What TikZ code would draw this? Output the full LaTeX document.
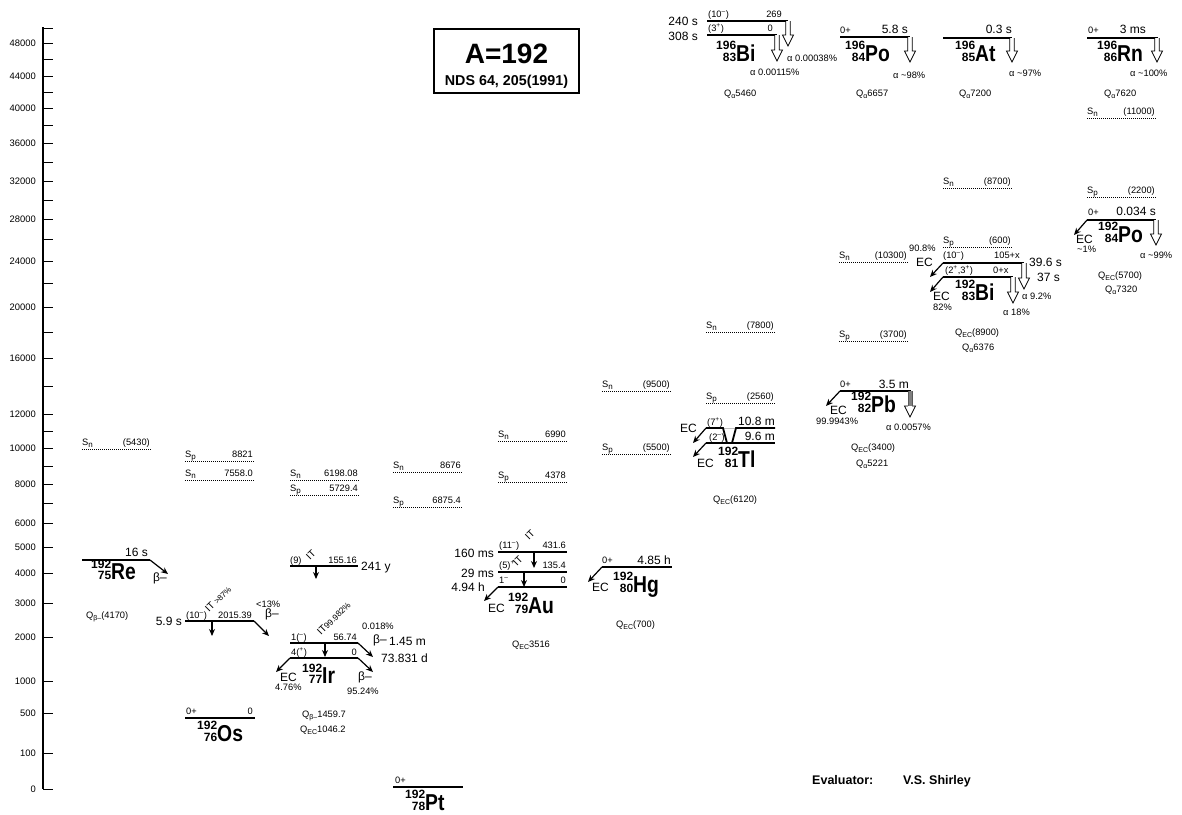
\documentclass[tikz,border=0pt]{standalone}
\usepackage{fontspec}
\setmainfont{Liberation Sans}
\usetikzlibrary{arrows.meta}
\newcommand\Ssub[1]{S\raisebox{-2pt}{\fontsize{8}{8}\selectfont #1}}
\newcommand\Qsub[1]{Q\raisebox{-2.5pt}{\fontsize{7}{7}\selectfont #1}}
\newcommand\Nuc[3]{{\bfseries\fontsize{12}{12}\selectfont\renewcommand\arraystretch{0.74}\begin{tabular}[b]{@{}r@{}}#1\\#2\end{tabular}\fontsize{23}{23}\selectfont\scalebox{0.84}[1]{#3}}}
\newcommand\Sup[1]{\textsuperscript{#1}}
\newcommand\SepLine[5]{%
  \coordinate (#1a) at (#2,#3); \coordinate (#1b) at (#2+69,#3);
  \draw[sep] (#1a) -- (#1b);
  \node[sm,anchor=base west] (#1s) at (#2,#3-3.5) {\Ssub{#4}};
  \node[sm,anchor=base east] (#1v) at (#2+68,#3-3.5) {#5};}
\newcommand\AArrow[4]{% name, x, y0, y1
  \coordinate (#1s) at (#2,#3); \coordinate (#1e) at (#2,#4);
  \draw[line width=0.8pt, fill=white] (#2-2.2,#3) -- (#2-2.2,#4-11) -- (#2-5.5,#4-11) -- (#1e) -- (#2+5.5,#4-11) -- (#2+2.2,#4-11) -- (#2+2.2,#3);}
\tikzset{
  lvl/.style={line width=1.8pt},
  sep/.style={line width=0.9pt, dash pattern=on 0.9pt off 1.1pt},
  arr/.style={line width=1.2pt,-{Stealth[length=7pt,width=6pt]}},
  sm/.style={inner sep=0pt,font=\fontsize{9.3}{10}\selectfont},
  md/.style={inner sep=0pt,font=\fontsize{12}{13}\selectfont},
  ax/.style={inner sep=0pt,font=\fontsize{9.4}{10}\selectfont},
  nuc/.style={inner sep=0pt,anchor=base west},
  rot/.style={inner sep=0pt,rotate=45,anchor=base west},
}
\begin{document}
\begin{tikzpicture}[x=1pt,y=-1pt]
\useasboundingbox (0,0) rectangle (1182,814);
% ---------------- axis
\draw[line width=1.2pt] (43,27) coordinate (axtop) -- (43,789) coordinate (axbot);
\foreach \y/\l in {43/48000,76/44000,108/40000,143/36000,181/32000,219/28000,261/24000,307/20000,358/16000,414/12000,448/10000,484/8000,523/6000,547/5000,573/4000,603/3000,637/2000,681/1000,713/500,753/100,789/0}{
  \draw[line width=1pt] (43,\y) -- (53,\y);
  \node[ax,anchor=east] at (36,\y) {\l};}
\foreach \y in {28,59,92,125,162,200,239,283,332,386,431,466,503}{
  \draw[line width=1pt] (43,\y) -- (53,\y);}
% ---------------- title
\node[draw,line width=1.2pt,minimum width=145pt,minimum height=64pt,inner sep=0pt] (title) at (506.5,61) {};
\node[inner sep=0pt,anchor=base,font=\fontsize{28}{28}\selectfont\bfseries] (tA) at (506.5,63) {A=192};
\node[inner sep=0pt,anchor=base,font=\fontsize{14.3}{14}\selectfont\bfseries] (tB) at (506.5,85) {NDS 64, 205(1991)};
\node[inner sep=0pt,anchor=base west,font=\fontsize{12.5}{12}\selectfont\bfseries] (ev1) at (812,784) {Evaluator:};
\node[inner sep=0pt,anchor=base west,font=\fontsize{12.5}{12}\selectfont\bfseries] (ev2) at (903,784) {V.S. Shirley};
% ---------------- separation energies
\SepLine{re}{82}{449}{n}{(5430)}
\SepLine{osp}{185}{461}{p}{8821}
\SepLine{osn}{185}{480}{n}{7558.0}
\SepLine{irn}{290}{480}{n}{6198.08}
\SepLine{irp}{290}{495}{p}{5729.4}
\SepLine{ptn}{393}{472}{n}{8676}
\SepLine{ptp}{393}{507}{p}{6875.4}
\SepLine{aun}{498}{441}{n}{6990}
\SepLine{aup}{498}{482}{p}{4378}
\SepLine{hgn}{602}{391}{n}{(9500)}
\SepLine{hgp}{602}{454}{p}{(5500)}
\SepLine{tln}{706}{332}{n}{(7800)}
\SepLine{tlp}{706}{403}{p}{(2560)}
\SepLine{pbn}{839}{262}{n}{(10300)}
\SepLine{pbp}{839}{341}{p}{(3700)}
\SepLine{bin}{943}{188}{n}{(8700)}
\SepLine{bip}{943}{247}{p}{(600)}
\SepLine{pon}{1087}{118}{n}{(11000)}
\SepLine{pop}{1087}{197}{p}{(2200)}
% ---------------- Re 192
\coordinate (ReL) at (82,560); \coordinate (ReR) at (150,560); \coordinate (ReB) at (168,574);
\draw[lvl] (ReL) -- (ReR);
\draw[arr] (ReR) -- (ReB);
\node[md,anchor=base east] (Re1) at (148,556) {16 s};
\node[md,anchor=base west] (Re2) at (153,581) {β–};
\node[nuc] (ReN) at (91,579) {\Nuc{192}{75}{Re}};
\node[sm,anchor=base west] (ReQ) at (86,618) {\Qsub{β–}(4170)};
% ---------------- Os 192
\coordinate (OsmL) at (185,621); \coordinate (OsmR) at (254,621);
\draw[lvl] (OsmL) -- (OsmR);
\node[md,anchor=base east] (Os1) at (182,625) {5.9 s};
\node[sm,anchor=base west] (Os2) at (186,618) {(10\Sup{–})};
\node[sm,anchor=base east] (Os3) at (252,618) {2015.39};
\node[rot] (Os4) at (209,613) {{\fontsize{10}{10}\selectfont IT} {\fontsize{8}{8}\selectfont >87\%}};
\coordinate (OsIT1) at (212,621); \coordinate (OsIT2) at (212,636);
\draw[arr] (OsIT1) -- (OsIT2);
\node[sm,anchor=base west] (Os5) at (256,607) {<13\%};
\node[md,anchor=base west] (Os6) at (265,617) {β–};
\coordinate (OsB) at (269,636);
\draw[arr] (OsmR) -- (OsB);
\coordinate (OsgL) at (185,718); \coordinate (OsgR) at (255,718);
\draw[lvl] (OsgL) -- (OsgR);
\node[sm,anchor=base west] (Os7) at (186,714) {0+};
\node[sm,anchor=base east] (Os8) at (253,714) {0};
\node[nuc] (OsN) at (197,741) {\Nuc{192}{76}{Os}};
% ---------------- Ir 192
\coordinate (IrhL) at (290,566); \coordinate (IrhR) at (358,566);
\draw[lvl] (IrhL) -- (IrhR);
\node[sm,anchor=base west] (Ir1) at (290,563) {(9)};
\node[sm,anchor=base east] (Ir2) at (357,563) {155.16};
\node[md,anchor=base west] (Ir3) at (361,570) {241 y};
\node[rot,font=\fontsize{10}{10}\selectfont] (Ir4) at (310,561) {IT};
\coordinate (IrIT1) at (316,566); \coordinate (IrIT2) at (316,579);
\draw[arr] (IrIT1) -- (IrIT2);
\coordinate (IrmL) at (290,643); \coordinate (IrmR) at (358,643);
\draw[lvl] (IrmL) -- (IrmR);
\node[sm,anchor=base west] (Ir5) at (291,640) {1(\Sup{–})};
\node[sm,anchor=base east] (Ir6) at (357,640) {56.74};
\node[rot] (Ir7) at (321,636) {{\fontsize{10}{10}\selectfont IT}{\fontsize{8.5}{8}\selectfont 99.982\%}};
\node[sm,anchor=base west] (Ir8) at (362,629) {0.018\%};
\node[md,anchor=base west] (Ir9) at (373,643) {β–};
\node[md,anchor=base west] (Ir10) at (389,645) {1.45 m};
\coordinate (IrIT3) at (325,643); \coordinate (IrIT4) at (325,657);
\draw[arr] (IrIT3) -- (IrIT4);
\coordinate (IrB1) at (373,657);
\draw[arr] (IrmR) -- (IrB1);
\coordinate (IrgL) at (290,658); \coordinate (IrgR) at (358,658);
\draw[lvl] (IrgL) -- (IrgR);
\node[sm,anchor=base west] (Ir11) at (291,655) {4(\Sup{+})};
\node[sm,anchor=base east] (Ir12) at (357,655) {0};
\node[md,anchor=base west] (Ir13) at (381,662) {73.831 d};
\coordinate (IrE) at (276,672); \coordinate (IrB2) at (373,672);
\draw[arr] (IrgL) -- (IrE);
\draw[arr] (IrgR) -- (IrB2);
\node[md,anchor=base west] (Ir14) at (280,681) {EC};
\node[sm,anchor=base west] (Ir15) at (275,690) {4.76\%};
\node[md,anchor=base west] (Ir16) at (358,680) {β–};
\node[sm,anchor=base west] (Ir17) at (347,694) {95.24\%};
\node[nuc] (IrN) at (302,683) {\Nuc{192}{77}{Ir}};
\node[sm,anchor=base west] (Ir18) at (302,717) {\Qsub{β–}1459.7};
\node[sm,anchor=base west] (Ir19) at (300,732) {\Qsub{EC}1046.2};
% ---------------- Pt 192
\coordinate (PtL) at (393,787); \coordinate (PtR) at (463,787);
\draw[lvl] (PtL) -- (PtR);
\node[sm,anchor=base west] (Pt1) at (395,783) {0+};
\node[nuc] (PtN) at (405,810) {\Nuc{192}{78}{Pt}};
% ---------------- Au 192
\coordinate (Au1L) at (498,552); \coordinate (Au1R) at (567,552);
\draw[lvl] (Au1L) -- (Au1R);
\node[md,anchor=base east] (Au1) at (494,557) {160 ms};
\node[sm,anchor=base west] (Au2) at (499,548) {(11\Sup{–})};
\node[sm,anchor=base east] (Au3) at (566,548) {431.6};
\node[rot,font=\fontsize{10}{10}\selectfont] (Au4) at (529,541) {IT};
\coordinate (AuIT1) at (534,552); \coordinate (AuIT2) at (534,568);
\draw[arr] (AuIT1) -- (AuIT2);
\coordinate (Au2L) at (498,572); \coordinate (Au2R) at (567,572);
\draw[lvl] (Au2L) -- (Au2R);
\node[md,anchor=base east] (Au5) at (494,577) {29 ms};
\node[sm,anchor=base west] (Au6) at (499,568) {(5)\Sup{+}};
\node[rot,font=\fontsize{10}{10}\selectfont] (Au7) at (517,567) {IT};
\node[sm,anchor=base east] (Au8) at (566,568) {135.4};
\coordinate (AuIT3) at (524,572); \coordinate (AuIT4) at (524,587);
\draw[arr] (AuIT3) -- (AuIT4);
\coordinate (Au3L) at (498,587); \coordinate (Au3R) at (567,587);
\draw[lvl] (Au3L) -- (Au3R);
\node[md,anchor=base east] (Au9) at (485,591) {4.94 h};
\node[sm,anchor=base west] (Au10) at (499,583) {1\Sup{–}};
\node[sm,anchor=base east] (Au11) at (566,583) {0};
\coordinate (AuE) at (484,601);
\draw[arr] (Au3L) -- (AuE);
\node[md,anchor=base west] (Au12) at (488,612) {EC};
\node[nuc] (AuN) at (508,613) {\Nuc{192}{79}{Au}};
\node[sm,anchor=base west] (Au13) at (512,647) {\Qsub{EC}3516};
% ---------------- Hg 192
\coordinate (HgL) at (602,567); \coordinate (HgR) at (672,567);
\draw[lvl] (HgL) -- (HgR);
\node[sm,anchor=base west] (Hg1) at (602,563) {0+};
\node[md,anchor=base east] (Hg2) at (671,564) {4.85 h};
\coordinate (HgE) at (588,582);
\draw[arr] (HgL) -- (HgE);
\node[md,anchor=base west] (Hg3) at (592,591) {EC};
\node[nuc] (HgN) at (613,592) {\Nuc{192}{80}{Hg}};
\node[sm,anchor=base west] (Hg4) at (616,627) {\Qsub{EC}(700)};
% ---------------- Tl 192
\coordinate (TluL) at (706,428); \coordinate (TluR) at (775,428);
\coordinate (TllL) at (706,443); \coordinate (TllR) at (775,443);
\draw[line width=0.6pt,gray!50] (723,428) -- (736,428);
\draw[lvl,line join=miter] (TluL) -- (723,428) -- (727,443);
\draw[lvl,line join=miter] (732,443) -- (736,428) -- (TluR);
\draw[lvl] (TllL) -- (TllR);
\node[sm,anchor=base west] (Tl1) at (707,425) {(7\Sup{+})};
\node[md,anchor=base east] (Tl2) at (775,425) {10.8 m};
\node[sm,anchor=base west] (Tl3) at (709,440) {(2\Sup{–})};
\node[md,anchor=base east] (Tl4) at (775,440) {9.6 m};
\coordinate (TlE1) at (693,443); \coordinate (TlE2) at (693,457);
\draw[arr] (TluL) -- (TlE1);
\draw[arr] (TllL) -- (TlE2);
\node[md,anchor=base west] (Tl5) at (680,432) {EC};
\node[md,anchor=base west] (Tl6) at (697,467) {EC};
\node[nuc] (TlN) at (718,467) {\Nuc{192}{81}{Tl}};
\node[sm,anchor=base west] (Tl7) at (713,502) {\Qsub{EC}(6120)};
% ---------------- Pb 192
\coordinate (PbL) at (840,391); \coordinate (PbR) at (911,391);
\draw[lvl] (PbL) -- (PbR);
\node[sm,anchor=base west] (Pb1) at (840,387) {0+};
\node[md,anchor=base east] (Pb2) at (909,388) {3.5 m};
\coordinate (PbE) at (826,406);
\draw[arr] (PbL) -- (PbE);
\node[md,anchor=base west] (Pb3) at (830,414) {EC};
\node[sm,anchor=base west] (Pb4) at (816,424) {99.9943\%};
\node[nuc] (PbN) at (851,412) {\Nuc{192}{82}{Pb}};
\coordinate (PbAs) at (910,391); \coordinate (PbAe) at (910,417);
\fill[gray] (907.8,391) rectangle (912.2,406);
\draw[line width=0.8pt,fill=white] (907.8,406) -- (904.5,406) -- (PbAe) -- (915.5,406) -- (912.2,406);
\draw[line width=0.5pt,gray!70!black] (907.8,391) -- (907.8,406) (912.2,391) -- (912.2,406);
\node[sm,anchor=base west] (Pb5) at (886,430) {α 0.0057\%};
\node[sm,anchor=base west] (Pb6) at (851,450) {\Qsub{EC}(3400)};
\node[sm,anchor=base west] (Pb7) at (856,466) {\Qsub{α}5221};
% ---------------- Bi 192
\coordinate (BiuL) at (943,263); \coordinate (BiuR) at (1024,263);
\draw[lvl] (BiuL) -- (BiuR);
\node[sm,anchor=base west] (Bi1) at (943,258) {(10\Sup{–})};
\node[sm,anchor=base east] (Bi2) at (1020,258) {105+x};
\node[md,anchor=base west] (Bi3) at (1029,266) {39.6 s};
\node[md,anchor=base west] (Bi4) at (1037,281) {37 s};
\node[sm,anchor=base west] (Bi5) at (909,251) {90.8\%};
\node[md,anchor=base west] (Bi6) at (916,266) {EC};
\coordinate (BiE1) at (930,277);
\draw[arr] (BiuL) -- (BiE1);
\AArrow{BiA1}{1024}{263}{289}
\coordinate (BilL) at (943,277); \coordinate (BilR) at (1013,277);
\draw[lvl] (BilL) -- (BilR);
\node[sm,anchor=base west] (Bi7) at (945,273) {(2\Sup{+},3\Sup{+})};
\node[sm,anchor=base west] (Bi8) at (993,273) {0+x};
\coordinate (BiE2) at (930,292);
\draw[arr] (BilL) -- (BiE2);
\AArrow{BiA2}{1013}{277}{303}
\node[md,anchor=base west] (Bi9) at (933,300) {EC};
\node[sm,anchor=base west] (Bi10) at (933,310) {82\%};
\node[nuc] (BiN) at (955,300) {\Nuc{192}{83}{Bi}};
\node[sm,anchor=base west] (Bi11) at (1022,299) {α 9.2\%};
\node[sm,anchor=base west] (Bi12) at (1003,315) {α 18\%};
\node[sm,anchor=base west] (Bi13) at (955,335) {\Qsub{EC}(8900)};
\node[sm,anchor=base west] (Bi14) at (962,350) {\Qsub{α}6376};
% ---------------- Po 192
\coordinate (PoL) at (1087,220); \coordinate (PoR) at (1156,220);
\draw[lvl] (PoL) -- (PoR);
\node[sm,anchor=base west] (Po1) at (1088,215) {0+};
\node[md,anchor=base east] (Po2) at (1156,215) {0.034 s};
\coordinate (PoE) at (1074,235);
\draw[arr] (PoL) -- (PoE);
\node[md,anchor=base west] (Po3) at (1076,243) {EC};
\node[sm,anchor=base west] (Po4) at (1077,252) {\textasciitilde1\%};
\node[nuc] (PoN) at (1098,242) {\Nuc{192}{84}{Po}};
\AArrow{PoA}{1156}{220}{245}
\node[sm,anchor=base west] (Po5) at (1140,258) {α \textasciitilde99\%};
\node[sm,anchor=base west] (Po6) at (1098,278) {\Qsub{EC}(5700)};
\node[sm,anchor=base west] (Po7) at (1105,292) {\Qsub{α}7320};
% ---------------- Bi 196
\coordinate (BbuL) at (707,21); \coordinate (BbuR) at (788,21);
\draw[lvl] (BbuL) -- (BbuR);
\node[md,anchor=base east] (Bb1) at (698,25) {240 s};
\node[sm,anchor=base west] (Bb2) at (708,17) {(10\Sup{–})};
\node[sm,anchor=base east] (Bb3) at (782,17) {269};
\AArrow{BbA1}{788}{21}{46}
\coordinate (BblL) at (707,35); \coordinate (BblR) at (777,35);
\draw[lvl] (BblL) -- (BblR);
\node[md,anchor=base east] (Bb4) at (698,40) {308 s};
\node[sm,anchor=base west] (Bb5) at (708,31) {(3\Sup{+})};
\node[sm,anchor=base east] (Bb6) at (773,31) {0};
\AArrow{BbA2}{777}{35}{61}
\node[nuc] (BbN) at (716,61) {\Nuc{196}{83}{Bi}};
\node[sm,anchor=base west] (Bb7) at (787,61) {α 0.00038\%};
\node[sm,anchor=base west] (Bb8) at (750,75) {α 0.00115\%};
\node[sm,anchor=base west] (Bb9) at (724,96) {\Qsub{α}5460};
% ---------------- Po 196
\coordinate (PbbL) at (840,37); \coordinate (PbbR) at (910,37);
\draw[lvl] (PbbL) -- (PbbR);
\node[sm,anchor=base west] (Pq1) at (840,33) {0+};
\node[md,anchor=base east] (Pq2) at (908,33) {5.8 s};
\AArrow{PqA}{910}{37}{62}
\node[nuc] (PqN) at (845,61) {\Nuc{196}{84}{Po}};
\node[sm,anchor=base west] (Pq3) at (893,78) {α \textasciitilde98\%};
\node[sm,anchor=base west] (Pq4) at (856,96) {\Qsub{α}6657};
% ---------------- At 196
\coordinate (AtL) at (943,38); \coordinate (AtR) at (1012,38);
\draw[lvl] (AtL) -- (AtR);
\node[md,anchor=base east] (At1) at (1012,33) {0.3 s};
\AArrow{AtA}{1012}{38}{62}
\node[nuc] (AtN) at (955,61) {\Nuc{196}{85}{At}};
\node[sm,anchor=base west] (At2) at (1009,76) {α \textasciitilde97\%};
\node[sm,anchor=base west] (At3) at (959,96) {\Qsub{α}7200};
% ---------------- Rn 196
\coordinate (RnL) at (1087,38); \coordinate (RnR) at (1158,38);
\draw[lvl] (RnL) -- (RnR);
\node[sm,anchor=base west] (Rn1) at (1088,33) {0+};
\node[md,anchor=base east] (Rn2) at (1146,33) {3 ms};
\AArrow{RnA}{1157}{38}{62}
\node[nuc] (RnN) at (1097,61) {\Nuc{196}{86}{Rn}};
\node[sm,anchor=base west] (Rn3) at (1130,76) {α \textasciitilde100\%};
\node[sm,anchor=base west] (Rn4) at (1104,96) {\Qsub{α}7620};
\end{tikzpicture}
\end{document}
